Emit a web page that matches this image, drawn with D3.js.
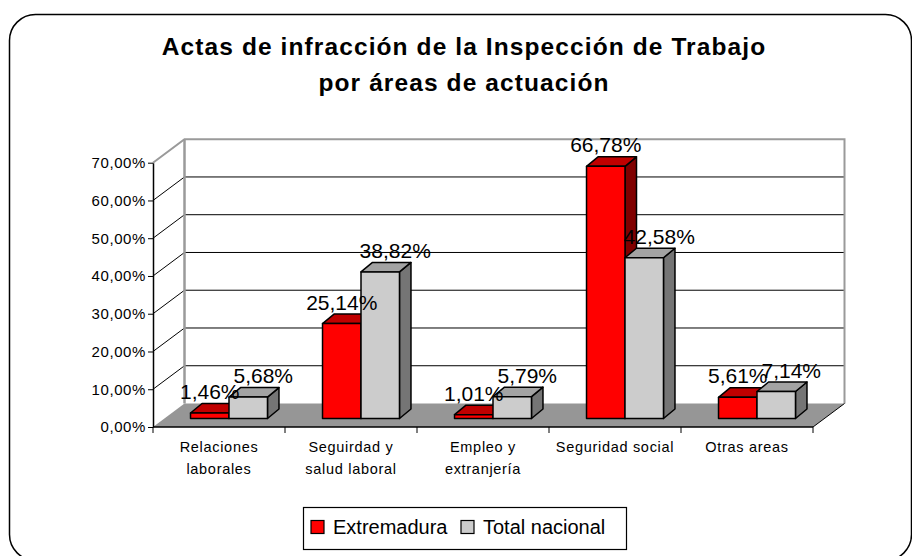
<!DOCTYPE html>
<html>
<head>
<meta charset="utf-8">
<script src="https://cdn.jsdelivr.net/npm/d3@7"></script>
<style>
  body { margin: 0; background: #fff; }
  text { font-family: "Liberation Sans", Arial, sans-serif; }
</style>
</head>
<body>
<div id="chart"></div>
<script>
// Data
const categories = ["Relaciones laborales", "Seguirdad y salud laboral", "Empleo y extranjería", "Seguridad social", "Otras areas"];
const categoryLines = [["Relaciones", "laborales"], ["Seguirdad y", "salud laboral"], ["Empleo y", "extranjería"], ["Seguridad social"], ["Otras areas"]];
const seriesNames = ["Extremadura", "Total nacional"];
const extremadura = [1.46, 25.14, 1.01, 66.78, 5.61];
const totalNacional = [5.68, 38.82, 5.79, 42.58, 7.14];
const yTicks = [0, 10, 20, 30, 40, 50, 60, 70];
const titleLines = ["Actas de infracción de la Inspección de Trabajo", "por áreas de actuación"];

const width = 912, height = 556;

// 3D offsets
const depth = {dx: 31.5, dy: -23.5};     // wall depth
const barShift = {dx: 10, dy: -8.5};     // bars sit inside the floor
const barDepth = {dx: 11.5, dy: -9.5};   // bar thickness

const colors = {
  "Extremadura": {front: "#ff0000", top: "#c00000", side: "#800000"},
  "Total nacional": {front: "#cccccc", top: "#a3a3a3", side: "#757575"}
};

const locale = d3.formatLocale({decimal: ",", thousands: ".", grouping: [3], currency: ["", "€"]});
const pct = v => locale.format(".2f")(v) + "%";

const svg = d3.select("#chart")
  .append("svg")
    .attr("width", width)
    .attr("height", height);

// Outer rounded frame
svg.append("rect")
  .attr("x", 9.5).attr("y", 14.5)
  .attr("width", 902).attr("height", 546)
  .attr("rx", 26).attr("ry", 26)
  .attr("fill", "#fff")
  .attr("stroke", "#000")
  .attr("stroke-width", 1.5);

// Title
svg.append("g").selectAll("text")
  .data(titleLines)
  .join("text")
    .attr("x", 464)
    .attr("y", (d, i) => 55 + i * 36)
    .attr("text-anchor", "middle")
    .style("font-size", "24.5px")
    .style("font-weight", "bold")
    .style("letter-spacing", "1.1px")
    .text(d => d);

// Scales
const x = d3.scaleBand()
  .domain(categories)
  .range([153, 813])
  .paddingInner(0.417)
  .paddingOuter(0.2085);

const xs = d3.scaleBand()
  .domain(seriesNames)
  .range([0, x.bandwidth()]);

const y = d3.scaleLinear()
  .domain([0, 70])
  .range([427, 162.7]);

const x0 = x.range()[0], x1 = x.range()[1];
const y0 = y(0), yTop = y(70);

const pts = arr => arr.map(p => p.join(",")).join(" ");

// Side wall (left)
svg.append("polygon")
  .attr("points", pts([[x0, y0], [x0, yTop], [x0 + depth.dx, yTop + depth.dy], [x0 + depth.dx, y0 + depth.dy]]))
  .attr("fill", "#fff");

// Back wall
svg.append("rect")
  .attr("x", x0 + depth.dx).attr("y", yTop + depth.dy)
  .attr("width", x1 - x0).attr("height", y0 - yTop)
  .attr("fill", "#fff");

// Gridlines: back wall + side wall diagonals
yTicks.filter(t => t > 0 && t < 70).forEach(t => {
  svg.append("line")
    .attr("x1", x0 + depth.dx).attr("x2", x1 + depth.dx)
    .attr("y1", y(t) + depth.dy).attr("y2", y(t) + depth.dy)
    .attr("stroke", "#000").attr("stroke-width", 1);
  svg.append("line")
    .attr("x1", x0).attr("x2", x0 + depth.dx)
    .attr("y1", y(t)).attr("y2", y(t) + depth.dy)
    .attr("stroke", "#000").attr("stroke-width", 1);
});

// Wall outlines (gray)
svg.append("polyline")
  .attr("points", pts([[x0, yTop], [x0 + depth.dx, yTop + depth.dy], [x1 + depth.dx, yTop + depth.dy], [x1 + depth.dx, y0 + depth.dy]]))
  .attr("fill", "none")
  .attr("stroke", "#9a9a9a").attr("stroke-width", 2);
svg.append("line")
  .attr("x1", x0 + depth.dx).attr("x2", x0 + depth.dx)
  .attr("y1", yTop + depth.dy).attr("y2", y0 + depth.dy)
  .attr("stroke", "#9a9a9a").attr("stroke-width", 2.5);

// Floor
svg.append("polygon")
  .attr("points", pts([[x0, y0], [x1, y0], [x1 + depth.dx, y0 + depth.dy], [x0 + depth.dx, y0 + depth.dy]]))
  .attr("fill", "#969696");
svg.append("line")
  .attr("x1", x1).attr("y1", y0)
  .attr("x2", x1 + depth.dx).attr("y2", y0 + depth.dy)
  .attr("stroke", "#000").attr("stroke-width", 1);

// Y axis
svg.append("g")
  .attr("transform", `translate(${x0},0)`)
  .call(d3.axisLeft(y).tickValues(yTicks).tickFormat(pct).tickSize(5).tickSizeOuter(0).tickPadding(2))
  .call(g => g.select(".domain").attr("stroke", "#000").attr("stroke-width", 1.5))
  .call(g => g.selectAll("text")
    .style("font-size", "15px")
    .style("letter-spacing", "0.6px")
    .attr("fill", "#000"));

// X axis line with ticks at band boundaries
svg.append("line")
  .attr("x1", x0).attr("x2", x1)
  .attr("y1", y0).attr("y2", y0)
  .attr("stroke", "#000").attr("stroke-width", 1.5);
const bounds = categories.map(c => x(c) - x.step() * x.paddingInner() / 2).concat([x1]);
svg.append("g").selectAll("line")
  .data(bounds)
  .join("line")
    .attr("x1", d => d).attr("x2", d => d)
    .attr("y1", y0).attr("y2", y0 + 6)
    .attr("stroke", "#000").attr("stroke-width", 1);

// Category labels
svg.append("g").selectAll("text")
  .data(categories)
  .join("text")
    .attr("text-anchor", "middle")
    .style("font-size", "14.5px")
    .style("letter-spacing", "0.7px")
    .each(function(d, i) {
      const cx = x(d) + x.bandwidth() / 2;
      d3.select(this).selectAll("tspan")
        .data(categoryLines[i])
        .join("tspan")
          .attr("x", cx)
          .attr("y", (l, j) => 452 + j * 22)
          .text(l => l);
    });

// Bars
const values = {"Extremadura": extremadura, "Total nacional": totalNacional};
const barW = xs.bandwidth();

categories.forEach((c, i) => {
  seriesNames.forEach(s => {
    const v = values[s][i];
    const bx = x(c) + xs(s) + barShift.dx;
    const by = y(v) + barShift.dy;
    const bb = y(0) + barShift.dy;
    const col = colors[s];
    const g = svg.append("g")
      .attr("stroke", "#000")
      .attr("stroke-width", 1.5)
      .attr("stroke-linejoin", "round");
    g.append("polygon")
      .attr("points", pts([[bx + barW, by], [bx + barW + barDepth.dx, by + barDepth.dy], [bx + barW + barDepth.dx, bb + barDepth.dy], [bx + barW, bb]]))
      .attr("fill", col.side);
    g.append("polygon")
      .attr("points", pts([[bx, by], [bx + barDepth.dx, by + barDepth.dy], [bx + barW + barDepth.dx, by + barDepth.dy], [bx + barW, by]]))
      .attr("fill", col.top);
    g.append("rect")
      .attr("x", bx).attr("y", by)
      .attr("width", barW).attr("height", bb - by)
      .attr("fill", col.front);
  });
});

// Value labels
categories.forEach((c, i) => {
  seriesNames.forEach((s, k) => {
    const v = values[s][i];
    svg.append("text")
      .attr("x", x(c) + xs(s) + barW / 2 + barShift.dx + (k === 0 ? 0 : 15))
      .attr("y", y(v) + barShift.dy - 14)
      .attr("text-anchor", "middle")
      .style("font-size", "21px")
      .attr("fill", "#000")
      .text(pct(v));
  });
});

// Legend
const legend = svg.append("g");
legend.append("rect")
  .attr("x", 303.5).attr("y", 507.5)
  .attr("width", 323).attr("height", 42)
  .attr("fill", "#fff")
  .attr("stroke", "#000").attr("stroke-width", 1.2);
const legendX = [311, 461];
seriesNames.forEach((s, k) => {
  legend.append("rect")
    .attr("x", legendX[k]).attr("y", 520.5)
    .attr("width", 13).attr("height", 13)
    .attr("fill", colors[s].front)
    .attr("stroke", "#000").attr("stroke-width", 1.2);
  legend.append("text")
    .attr("x", legendX[k] + 22)
    .attr("y", 534)
    .style("font-size", "20px")
    .attr("fill", "#000")
    .text(s);
});
</script>
</body>
</html>
